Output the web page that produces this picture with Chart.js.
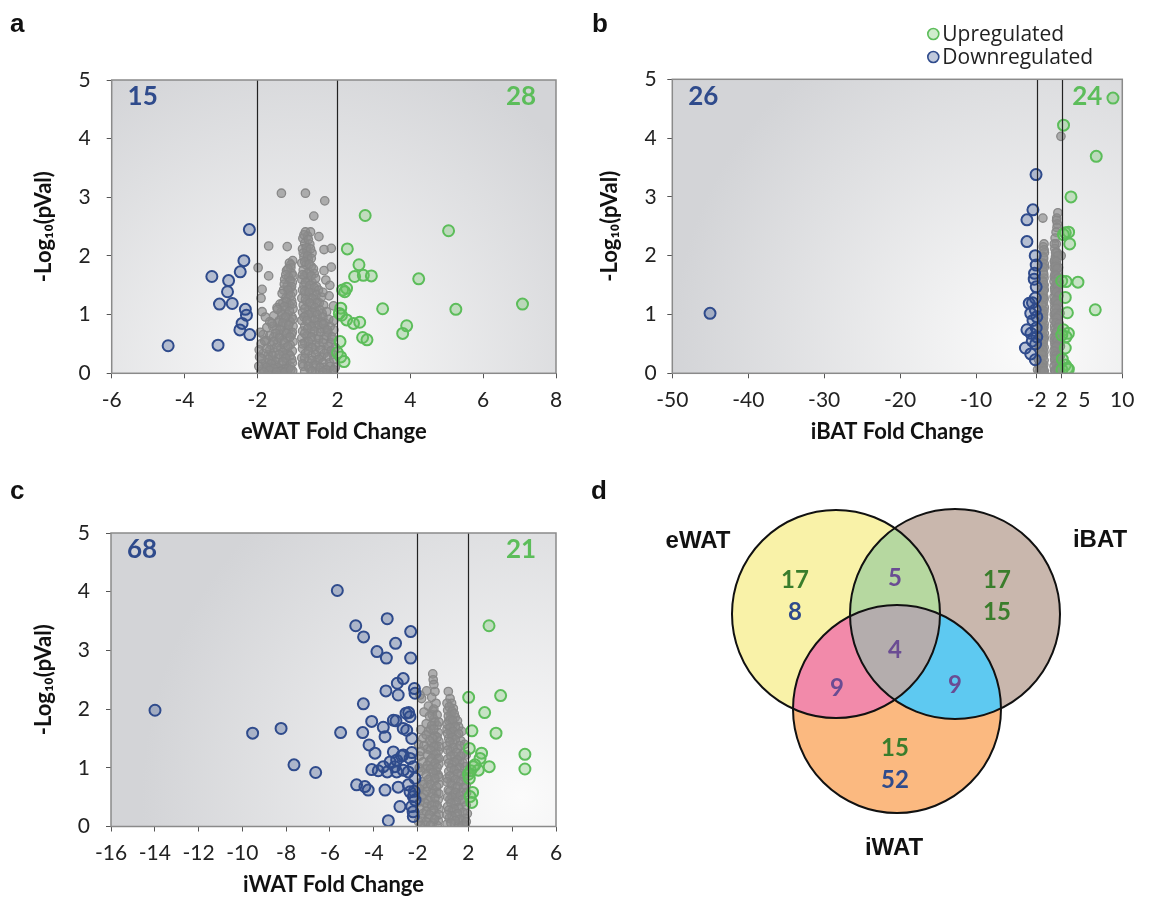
<!DOCTYPE html>
<html>
<head>
<meta charset="utf-8">
<script src="https://cdn.jsdelivr.net/npm/chart.js@4.4.1/dist/chart.umd.min.js"></script>
<style>
  body { margin: 0; background: #fff; width: 1151px; height: 898px; position: relative; overflow: hidden; }
  canvas { position: absolute; }
  .tag { position: absolute; font: bold 26px "Liberation Sans", Arial, sans-serif; line-height: 26px; color: #111; }
</style>
</head>
<body>
<canvas id="chartA" width="575" height="449" style="left:0;top:0"></canvas>
<canvas id="chartB" width="576" height="449" style="left:575px;top:0"></canvas>
<canvas id="chartC" width="575" height="449" style="left:0;top:449px"></canvas>
<canvas id="chartD" width="551" height="449" style="left:600px;top:449px"></canvas>
<div class="tag" style="left:10px;top:10px">a</div>
<div class="tag" style="left:592px;top:10px">b</div>
<div class="tag" style="left:10px;top:477px">c</div>
<div class="tag" style="left:591px;top:477px">d</div>
<script>
// tick labels
const yTicks = [0, 1, 2, 3, 4, 5]
const xTicksA = [-6, -4, -2, 2, 4, 6, 8]
const xTicksB = [-50, -40, -30, -20, -10, -2, 2, 5, 10]
const xTicksC = [-16, -14, -12, -10, -8, -6, -4, -2, 2, 4, 6]

// number of genes up / down per tissue (a, b, c)
const countDown = [15, 26, 68]
const countUp = [28, 24, 21]

// points: fold change, -log10(p)   (flat pairs)
const downA = [-2.22,2.45, -2.37,1.92, -2.47,1.73, -3.25,1.65, -2.79,1.58, -2.82,1.39, -3.04,1.18, -2.69,1.19,
  -2.33,1.09, -2.30,0.99, -2.42,0.85, -2.48,0.74, -2.21,0.66, -4.45,0.47, -3.08,0.48]
const upA = [2.76,2.69, 5.05,2.43, 2.27,2.12, 2.59,1.85, 2.47,1.65, 2.71,1.67, 2.93,1.66, 4.23,1.61, 2.14,1.42,
  2.25,1.45, 2.20,1.39, 7.08,1.18, 3.24,1.10, 5.25,1.09, 2.09,1.11, 2.11,0.99, 2.25,0.91, 2.44,0.85, 2.61,0.87,
  3.90,0.81, 3.79,0.68, 2.69,0.61, 2.81,0.57, 2.07,0.54, 2.00,0.35, 2.09,0.28, 2.18,0.20, 2.05,1.02]
const grayA = [
  -1.03,1.92, -1.12,1.88, -1.08,1.80, -1.20,1.75, -1.05,1.70, -1.14,1.64, -1.25,1.60, -1.04,1.55, -1.18,1.50,
  -1.10,1.45, -1.28,1.42, -1.03,1.38, -1.15,1.34, -1.22,1.28, -1.06,1.24, -1.30,1.20, -1.12,1.16, -1.02,1.10,
  -1.24,1.08, -1.35,1.04, -1.16,1.00, -1.05,0.96, -1.28,0.94, -1.40,0.90, -1.10,0.88, -1.20,0.84, -1.02,0.80,
  -1.33,0.80, -1.48,0.76, -1.14,0.74, -1.25,0.70, -1.06,0.66, -1.38,0.66, -1.55,0.62, -1.18,0.60, -1.30,0.56,
  -1.02,0.54, -1.45,0.52, -1.10,0.48, -1.62,0.48, -1.22,0.44, -1.36,0.42, -1.04,0.38, -1.52,0.36, -1.15,0.34,
  -1.70,0.32, -1.28,0.30, -1.42,0.26, -1.06,0.24, -1.60,0.22, -1.20,0.20, -1.78,0.18, -1.34,0.16, -1.50,0.14,
  -1.10,0.12, -1.66,0.10, -1.26,0.08, -1.85,0.07, -1.40,0.05, -1.03,0.04, -1.56,0.03, -1.18,0.02, -1.72,0.02,
  -1.90,0.03, -1.32,0.01,
  -1.08,1.85, -1.16,1.78, -1.02,1.66, -1.22,1.68, -1.10,1.58, -1.26,1.52, -1.06,1.48, -1.16,1.42, -1.32,1.36,
  -1.08,1.32, -1.20,1.22, -1.38,1.18, -1.04,1.18, -1.26,1.14, -1.46,1.12, -1.12,1.06, -1.32,1.00, -1.55,0.98,
  -1.22,0.96, -1.02,0.92, -1.44,0.86, -1.66,0.88, -1.30,0.86, -1.14,0.82, -1.58,0.80, -1.74,0.78, -1.38,0.74,
  -1.04,0.70, -1.20,0.68, -1.50,0.68, -1.84,0.66, -1.66,0.64, -1.10,0.62, -1.40,0.60, -1.26,0.52, -1.56,0.54,
  -1.76,0.56, -1.90,0.50, -1.16,0.46, -1.48,0.44, -1.66,0.40, -1.30,0.36, -1.84,0.34, -1.10,0.30, -1.58,0.30,
  -1.40,0.32, -1.94,0.28, -1.22,0.26, -1.70,0.24, -1.50,0.20, -1.04,0.18, -1.30,0.20, -1.86,0.16, -1.62,0.16,
  -1.14,0.08, -1.44,0.10, -1.76,0.10, -1.96,0.12, -1.56,0.08, -1.34,0.04, -1.66,0.05, -1.82,0.02, -1.24,0.02,
  -1.48,0.02, -1.08,0.06,
  -1.69,2.17, -1.18,2.16, -1.34,3.07, -1.98,1.80, -1.69,1.66, -1.87,1.43, -1.90,1.28, -1.45,1.09, -1.87,1.05,
  -1.78,0.96, -1.92,0.70, -1.80,0.55, -1.95,0.40, -1.88,0.25, -1.60,0.85, -1.75,0.42,
  1.12,2.41, 1.26,2.41, 1.05,2.30, 1.18,2.34, 1.10,2.22, 1.24,2.20, 1.04,2.12, 1.16,2.08, 1.30,2.05, 1.08,1.98,
  1.20,1.94, 1.02,1.88, 1.14,1.85, 1.28,1.82, 1.06,1.76, 1.22,1.72, 1.36,1.70, 1.10,1.66, 1.02,1.60, 1.18,1.58,
  1.30,1.55, 1.08,1.50, 1.42,1.48, 1.20,1.45, 1.04,1.42, 1.32,1.38, 1.12,1.35, 1.24,1.30, 1.02,1.28, 1.40,1.26,
  1.16,1.22, 1.50,1.20, 1.06,1.16, 1.28,1.14, 1.20,1.08, 1.38,1.05, 1.04,1.04, 1.58,1.02, 1.12,0.98, 1.30,0.95,
  1.46,0.92, 1.02,0.90, 1.22,0.86, 1.66,0.86, 1.10,0.80, 1.36,0.80, 1.54,0.76, 1.04,0.72, 1.26,0.70, 1.74,0.70,
  1.16,0.64, 1.44,0.64, 1.02,0.60, 1.62,0.58, 1.30,0.56, 1.10,0.52, 1.82,0.52, 1.50,0.48, 1.20,0.46, 1.04,0.42,
  1.38,0.40, 1.70,0.38, 1.12,0.34, 1.88,0.32, 1.28,0.30, 1.56,0.28, 1.02,0.26, 1.44,0.22, 1.18,0.20, 1.78,0.18,
  1.34,0.14, 1.06,0.12, 1.62,0.10, 1.94,0.10, 1.24,0.07, 1.50,0.05, 1.10,0.03, 1.40,0.02, 1.72,0.02, 1.86,0.04,
  1.08,2.36, 1.20,2.28, 1.14,2.14, 1.26,2.12, 1.06,2.05, 1.18,2.00, 1.28,1.96, 1.10,1.90, 1.22,1.86, 1.34,1.78,
  1.16,1.70, 1.28,1.66, 1.04,1.68, 1.40,1.62, 1.12,1.55, 1.24,1.50, 1.36,1.46, 1.48,1.42, 1.10,1.40, 1.22,1.38,
  1.42,1.34, 1.56,1.30, 1.30,1.28, 1.12,1.26, 1.44,1.20, 1.24,1.20, 1.62,1.16, 1.38,1.12, 1.10,1.10, 1.52,1.08,
  1.30,1.04, 1.70,1.05, 1.20,1.00, 1.44,1.00, 1.60,0.96, 1.08,0.96, 1.76,0.92, 1.36,0.90, 1.56,0.86, 1.16,0.90,
  1.80,0.80, 1.46,0.82, 1.28,0.80, 1.64,0.76, 1.18,0.76, 1.36,0.72, 1.90,0.74, 1.54,0.70, 1.10,0.68, 1.70,0.64,
  1.28,0.62, 1.86,0.58, 1.48,0.58, 1.20,0.54, 1.60,0.52, 1.40,0.48, 1.76,0.46, 1.04,0.50, 1.94,0.44, 1.30,0.44,
  1.54,0.40, 1.20,0.38, 1.82,0.38, 1.64,0.34, 1.40,0.32, 1.10,0.26, 1.72,0.28, 1.48,0.24, 1.30,0.22, 1.90,0.24,
  1.60,0.18, 1.04,0.16, 1.40,0.14, 1.80,0.12, 1.20,0.12, 1.52,0.10, 1.70,0.06, 1.30,0.04, 1.90,0.06, 1.60,0.02,
  1.12,3.07, 1.65,2.94, 1.35,2.68, 1.49,2.33, 1.63,2.11, 1.83,2.13, 1.83,1.81, 1.63,1.75, 1.68,1.59, 1.79,1.50,
  1.60,1.38, 1.77,1.32, 1.89,1.15, 1.61,0.84, 1.72,0.74, 1.90,0.90, 1.85,0.62]

const downB = [-45.03,1.02, -2.1,3.38, -2.51,2.78, -3.3,2.61, -3.3,2.24, -2.21,2.0, -2.08,1.84, -2.34,1.6, -2.08,1.47,
  -3.0,1.19, -2.57,1.2, -2.2,1.28, -2.8,1.02, -2.2,1.08, -2.0,0.96, -3.3,0.74, -2.77,0.68, -2.08,0.77, -2.0,0.62,
  -3.5,0.43, -2.8,0.33, -2.2,0.23, -2.3,1.7, -2.5,0.9, -2.15,0.5, -2.6,0.55]
const upB = [8.77,4.68, 2.26,4.22, 6.57,3.69, 3.24,3.0, 2.49,2.39, 2.93,2.4, 2.24,2.36, 3.07,2.2, 2.02,1.57, 2.6,1.56,
  4.16,1.55, 2.49,1.29, 6.44,1.08, 2.77,1.03, 2.24,0.74, 2.9,0.68, 2.6,0.62, 2.03,0.65, 2.49,0.43, 2.1,0.24,
  2.49,0.14, 2.77,0.085, 2.05,0.06, 2.9,0.07]
const grayB = [
  -1.2,2.64, -1.05,2.2, -1.15,2.15, -1.0,2.05, -1.1,1.95, -1.25,1.88, -1.02,1.8, -1.15,1.72, -1.05,1.62, -1.3,1.58,
  -1.12,1.5, -1.02,1.42, -1.22,1.36, -1.08,1.3, -1.4,1.25, -1.15,1.2, -1.02,1.12, -1.3,1.08, -1.1,1.0, -1.5,0.96,
  -1.2,0.9, -1.04,0.84, -1.36,0.8, -1.14,0.74, -1.6,0.7, -1.26,0.66, -1.02,0.6, -1.44,0.56, -1.16,0.5, -1.7,0.46,
  -1.3,0.42, -1.06,0.36, -1.52,0.32, -1.2,0.28, -1.8,0.24, -1.38,0.2, -1.08,0.15, -1.6,0.12, -1.26,0.08, -1.9,0.06,
  -1.45,0.04, -1.12,0.02, -1.7,0.02,
  -1.04,2.1, -1.12,1.98, -1.02,1.86, -1.2,1.8, -1.08,1.68, -1.16,1.56, -1.04,1.5, -1.26,1.46, -1.12,1.4, -1.04,1.26,
  -1.2,1.28, -1.34,1.16, -1.06,1.06, -1.22,1.02, -1.4,1.0, -1.12,0.94, -1.3,0.88, -1.06,0.78, -1.24,0.76, -1.5,0.8,
  -1.02,0.68, -1.18,0.62, -1.36,0.6, -1.56,0.62, -1.1,0.56, -1.28,0.5, -1.46,0.46, -1.04,0.44, -1.2,0.4, -1.62,0.38,
  -1.12,0.3, -1.34,0.32, -1.5,0.24, -1.04,0.22, -1.26,0.16, -1.44,0.12, -1.7,0.14, -1.16,0.08, -1.34,0.02,
  -1.56,0.04, -1.02,0.04,
  1.92,4.03, 1.52,2.73, 1.37,2.64, 1.45,2.54, 1.3,2.2, 1.12,2.12, 1.4,2.05, 1.2,1.98, 1.05,1.9, 1.32,1.85, 1.6,1.8,
  1.15,1.76, 1.45,1.7, 1.05,1.64, 1.25,1.6, 1.7,1.55, 1.38,1.5, 1.1,1.45, 1.55,1.4, 1.2,1.35, 1.02,1.3, 1.45,1.25,
  1.3,1.2, 1.12,1.15, 1.65,1.1, 1.4,1.05, 1.05,1.0, 1.22,0.95, 1.55,0.9, 1.35,0.85, 1.1,0.8, 1.75,0.76, 1.45,0.72,
  1.2,0.68, 1.03,0.62, 1.6,0.58, 1.32,0.54, 1.12,0.5, 1.85,0.46, 1.5,0.42, 1.25,0.38, 1.05,0.32, 1.7,0.28, 1.4,0.24,
  1.15,0.2, 1.9,0.16, 1.55,0.12, 1.3,0.08, 1.08,0.05, 1.75,0.04, 1.45,0.02, 1.95,2.0,
  1.35,2.6, 1.4,2.48, 1.28,2.4, 1.15,2.3, 1.05,2.2, 1.22,2.05, 1.5,2.0, 1.1,1.92, 1.3,1.9, 1.02,1.8, 1.2,1.82,
  1.4,1.78, 1.12,1.68, 1.3,1.66, 1.55,1.62, 1.02,1.56, 1.22,1.5, 1.45,1.48, 1.12,1.4, 1.32,1.38, 1.65,1.32,
  1.05,1.22, 1.22,1.24, 1.5,1.18, 1.1,1.08, 1.3,1.1, 1.8,1.02, 1.2,1.02, 1.6,0.98, 1.02,0.9, 1.4,0.94, 1.25,0.86,
  1.7,0.84, 1.12,0.74, 1.55,0.78, 1.35,0.7, 1.9,0.64, 1.05,0.56, 1.25,0.6, 1.45,0.56, 1.7,0.5, 1.15,0.44, 1.35,0.46,
  1.6,0.36, 1.02,0.38, 1.25,0.3, 1.85,0.3, 1.5,0.26, 1.1,0.24, 1.3,0.16, 1.7,0.14, 1.02,0.12, 1.45,0.08, 1.2,0.04,
  1.6,0.06, 1.9,0.05]

const downC = [-13.99,1.98, -9.53,1.59, -8.23,1.67, -7.64,1.05, -6.65,0.92, -5.66,4.02, -5.51,1.6, -4.82,3.42,
  -4.46,3.23, -3.38,3.54, -3.0,3.12, -3.85,2.98, -3.42,2.87, -2.31,3.32, -2.31,2.87, -2.65,2.52, -2.92,2.44,
  -3.44,2.31, -2.88,2.24, -2.14,2.35, -2.11,2.27, -4.47,2.09, -2.4,1.94, -2.34,1.87, -4.09,1.79, -2.98,1.8,
  -3.56,1.69, -3.48,1.53, -2.65,1.67, -2.49,1.64, -4.5,1.6, -2.26,1.5, -4.21,1.39, -3.94,1.25, -3.1,1.27,
  -2.65,1.22, -2.26,1.26, -3.25,1.1, -2.95,1.13, -3.03,1.02, -4.09,0.97, -3.79,0.95, -3.56,1.02, -3.38,0.93,
  -2.95,0.93, -2.65,0.96, -2.42,0.93, -2.19,1.02, -4.78,0.71, -4.4,0.68, -4.25,0.62, -3.48,0.62, -2.88,0.67,
  -2.42,0.71, -2.34,0.59, -2.19,0.51, -2.11,0.45, -2.8,0.34, -3.33,0.1, -2.26,0.34, -2.19,0.17, -2.11,0.82,
  -3.1,1.81, -2.52,1.93, -2.34,1.16, -2.72,1.2, -2.15,0.6, -2.2,0.25]
const upC = [2.94,3.42, 2.01,2.2, 3.47,2.23, 2.74,1.94, 2.16,1.63, 3.26,1.59, 2.04,1.33, 2.6,1.25, 2.53,1.16,
  4.58,1.23, 4.58,0.98, 2.95,1.02, 2.22,1.02, 2.45,0.96, 2.0,0.89, 2.04,0.82, 2.19,0.58, 2.07,0.51, 2.15,0.41,
  2.1,0.95, 2.3,1.05]
const grayC = [
  -1.3,2.6, -1.28,2.5, -1.25,2.42, -1.58,2.31, -1.81,2.18, -1.88,2.24, -1.3,1.97, -1.32,1.9, -1.25,1.83, -1.6,1.75,
  -1.1,1.72, -1.4,1.66, -1.05,1.6, -1.2,1.55, -1.75,1.5, -1.02,1.45, -1.35,1.42, -1.15,1.36, -1.55,1.32, -1.05,1.28,
  -1.25,1.22, -1.9,1.2, -1.1,1.16, -1.45,1.12, -1.02,1.06, -1.3,1.02, -1.65,0.98, -1.15,0.94, -1.05,0.88, -1.4,0.84,
  -1.22,0.78, -1.8,0.76, -1.02,0.72, -1.55,0.68, -1.3,0.64, -1.12,0.58, -1.7,0.54, -1.4,0.5, -1.05,0.46, -1.9,0.42,
  -1.22,0.38, -1.55,0.34, -1.02,0.3, -1.35,0.26, -1.75,0.22, -1.15,0.18, -1.5,0.14, -1.05,0.1, -1.95,0.08, -1.3,0.06,
  -1.65,0.03, -1.1,0.02, -1.95,1.4, -1.92,1.0, -1.98,0.6,
  -1.2,2.3, -1.35,2.2, -1.15,2.1, -1.5,2.05, -1.25,2.0, -1.7,1.95, -1.1,1.9, -1.45,1.88, -1.2,1.78, -1.35,1.72,
  -1.02,1.78, -1.85,1.65, -1.5,1.62, -1.25,1.66, -1.1,1.52, -1.6,1.56, -1.3,1.5, -1.45,1.46, -1.02,1.36, -1.25,1.36,
  -1.7,1.38, -1.4,1.3, -1.15,1.24, -1.85,1.28, -1.55,1.22, -1.35,1.16, -1.02,1.16, -1.75,1.1, -1.2,1.08, -1.55,1.04,
  -1.4,0.98, -1.1,1.0, -1.85,0.94, -1.28,0.92, -1.6,0.88, -1.02,0.84, -1.5,0.8, -1.2,0.82, -1.7,0.72, -1.4,0.72,
  -1.12,0.68, -1.9,0.64, -1.58,0.6, -1.3,0.56, -1.02,0.56, -1.8,0.5, -1.5,0.44, -1.2,0.48, -1.65,0.4, -1.35,0.36,
  -1.1,0.36, -1.88,0.3, -1.6,0.26, -1.25,0.28, -1.45,0.2, -1.02,0.2, -1.8,0.14, -1.22,0.12, -1.6,0.08, -1.4,0.02,
  -1.85,0.02,
  1.08,2.3, 1.16,2.18, 1.23,2.1, 1.31,2.01, 1.05,1.98, 1.2,1.9, 1.4,1.86, 1.1,1.8, 1.3,1.74, 1.55,1.7, 1.02,1.66,
  1.2,1.6, 1.45,1.56, 1.1,1.5, 1.65,1.46, 1.3,1.42, 1.02,1.38, 1.5,1.32, 1.18,1.28, 1.75,1.24, 1.35,1.2, 1.05,1.15,
  1.6,1.1, 1.25,1.06, 1.85,1.02, 1.45,0.98, 1.1,0.94, 1.7,0.9, 1.3,0.86, 1.02,0.82, 1.55,0.78, 1.2,0.74, 1.9,0.7,
  1.4,0.66, 1.08,0.62, 1.65,0.58, 1.3,0.54, 1.5,0.5, 1.15,0.46, 1.8,0.42, 1.35,0.38, 1.05,0.34, 1.6,0.3, 1.25,0.26,
  1.95,0.22, 1.45,0.18, 1.12,0.14, 1.7,0.1, 1.35,0.06, 1.02,0.04, 1.55,0.02, 1.85,0.03,
  1.02,2.1, 1.12,2.04, 1.25,1.96, 1.08,1.88, 1.35,1.92, 1.18,1.82, 1.5,1.8, 1.28,1.8, 1.02,1.74, 1.4,1.7, 1.15,1.68,
  1.7,1.62, 1.3,1.62, 1.05,1.58, 1.55,1.58, 1.25,1.52, 1.4,1.48, 1.82,1.4, 1.15,1.44, 1.6,1.38, 1.3,1.34, 1.05,1.3,
  1.45,1.26, 1.9,1.22, 1.2,1.2, 1.65,1.2, 1.5,1.14, 1.35,1.1, 1.1,1.08, 1.75,1.08, 1.2,1.0, 1.6,1.0, 1.35,0.96,
  1.92,0.9, 1.5,0.9, 1.15,0.86, 1.8,0.84, 1.4,0.8, 1.65,0.76, 1.02,0.76, 1.25,0.7, 1.5,0.68, 1.78,0.66, 1.15,0.6,
  1.92,0.58, 1.4,0.58, 1.6,0.52, 1.25,0.5, 1.05,0.5, 1.72,0.46, 1.45,0.42, 1.2,0.4, 1.9,0.36, 1.55,0.32, 1.35,0.3,
  1.1,0.28, 1.75,0.24, 1.5,0.22, 1.25,0.18, 1.02,0.2, 1.85,0.14, 1.6,0.12, 1.4,0.1, 1.2,0.06, 1.75,0.02, 1.9,0.08]

// venn: gene counts per region (top number / bottom number)
const vennSets = ['eWAT', 'iBAT', 'iWAT']
const vennRegions = ['eWAT', 'iBAT', 'iWAT', 'eWAT+iBAT', 'eWAT+iWAT', 'iBAT+iWAT', 'all']
const vennTop = [17, 17, 15, 5, 9, 9, 4]
const vennBottom = [8, 15, 52, null, null, null, null]

// ---- styles / layout ----
const GREEN = '#5cbd5a', GREEN_FILL = 'rgba(110,195,100,0.32)'
const BLUE = '#2f4b8c', BLUE_FILL = 'rgba(47,75,140,0.3)'
const FONT = 'Lato, "Open Sans", sans-serif'
Chart.defaults.font.family = FONT

function fold(fc, gap) { return fc < 0 ? fc + gap : fc - gap }

function toPts(arr, gap) {
  const out = []
  for (let i = 0; i < arr.length; i += 2) out.push({ x: fold(arr[i], gap), y: arr[i + 1] })
  return out
}

// fundo degradê, linhas de corte, moldura e contagens
const volcanoDeco = {
  id: 'volcanoDeco',
  beforeDraw(chart, args, o) {
    const { ctx, chartArea: a } = chart
    const cx = a.left + o.glow[0] * a.width, cy = a.top + o.glow[1] * a.height
    const g = ctx.createRadialGradient(cx, cy, 0, cx, cy, o.glow[2] * a.width)
    g.addColorStop(0, '#fbfbfb')
    g.addColorStop(1, '#d3d4d7')
    ctx.save()
    ctx.fillStyle = g
    ctx.fillRect(a.left, a.top, a.width, a.height)
    ctx.restore()
  },
  afterDatasetsDraw(chart, args, o) {
    const { ctx, chartArea: a, scales } = chart
    ctx.save()
    ctx.strokeStyle = '#222'
    ctx.lineWidth = 1.2
    for (const v of [-2, 2]) {
      const x = Math.round(scales.x.getPixelForValue(fold(v, o.gap))) + 0.5
      ctx.beginPath(); ctx.moveTo(x, a.top); ctx.lineTo(x, a.bottom); ctx.stroke()
    }
    ctx.strokeStyle = '#8a8a8a'
    ctx.lineWidth = 1.5
    ctx.strokeRect(a.left, a.top, a.width, a.height)
    ctx.font = 'bold 26px ' + FONT
    ctx.textAlign = 'center'
    ctx.textBaseline = 'middle'
    ctx.fillStyle = BLUE
    ctx.fillText(String(o.down), a.left + 31, a.top + 17)
    ctx.fillStyle = GREEN
    ctx.fillText(String(o.up), a.right - 35, a.top + 17)
    ctx.restore()
  }
}

const legendDeco = {
  id: 'legendDeco',
  afterDraw(chart, args, o) {
    if (!o.show) return
    const ctx = chart.ctx
    ctx.save()
    ctx.font = '21px "Open Sans", sans-serif'
    ctx.textBaseline = 'middle'
    chart.data.datasets.slice(0, 2).forEach((ds, i) => {
      const y = o.y + i * 23
      ctx.beginPath()
      ctx.arc(o.x, y, 5.5, 0, Math.PI * 2)
      ctx.fillStyle = '#fff'; ctx.fill()
      ctx.fillStyle = ds.backgroundColor; ctx.fill()
      ctx.lineWidth = 1.6; ctx.strokeStyle = ds.borderColor; ctx.stroke()
      ctx.fillStyle = '#222'
      ctx.fillText(ds.label, o.x + 9, y + 1)
    })
    ctx.restore()
  }
}

function volcano(id, d, L) {
  const g = L.gap
  const tickFont = { family: FONT, size: 21 }
  const titleFont = { family: FONT, size: 22, weight: 'bold' }
  return new Chart(document.getElementById(id), {
    type: 'scatter',
    data: {
      datasets: [
        { label: 'Upregulated', data: toPts(d.up, g), pointRadius: 5.5, borderWidth: 2,
          borderColor: GREEN, backgroundColor: GREEN_FILL, order: 1 },
        { label: 'Downregulated', data: toPts(d.down, g), pointRadius: 5.5, borderWidth: 2,
          borderColor: BLUE, backgroundColor: BLUE_FILL, order: 1 },
        { label: 'Other', data: toPts(d.gray, g), pointRadius: 4.2, borderWidth: 1.3,
          borderColor: '#888888', backgroundColor: 'rgba(140,140,140,0.65)', order: 2 }
      ]
    },
    options: {
      responsive: false,
      animation: false,
      events: [],
      layout: { padding: L.pad },
      scales: {
        x: {
          type: 'linear',
          min: fold(d.xTicks[0], g),
          max: fold(d.xTicks[d.xTicks.length - 1], g),
          afterBuildTicks: s => { s.ticks = d.xTicks.map(v => ({ value: fold(v, g) })) },
          afterFit: s => { s.height = L.xAxisH },
          border: { display: false },
          grid: {
            drawOnChartArea: false, tickLength: 5, lineWidth: 1,
            tickColor: c => (d.noMark || []).includes(d.xTicks[c.index]) ? 'rgba(0,0,0,0)' : '#555'
          },
          ticks: { autoSkip: false, maxRotation: 0, minRotation: 0, padding: 9, color: '#222', font: tickFont,
            callback: (v, i) => String(d.xTicks[i]) },
          title: { display: true, text: d.xTitle, color: '#111', font: titleFont,
            padding: { top: 0, bottom: L.xTitlePad } }
        },
        y: {
          type: 'linear', min: 0, max: 5,
          afterBuildTicks: s => { s.ticks = yTicks.map(v => ({ value: v })) },
          afterFit: s => { s.width = L.yAxisW },
          border: { display: false },
          grid: { drawOnChartArea: false, tickLength: 5, tickColor: '#555' },
          ticks: { padding: L.yTickPad, color: '#222', font: tickFont },
          title: { display: true, text: '-Log\u2081\u2080(pVal)', color: '#111', font: titleFont,
            padding: { top: L.yTitlePad, bottom: 0 } }
        }
      },
      plugins: {
        legend: { display: false },
        tooltip: { enabled: false },
        volcanoDeco: { gap: g, glow: L.glow, down: d.countDown, up: d.countUp },
        legendDeco: L.legend || { show: false }
      }
    },
    plugins: [volcanoDeco, legendDeco]
  })
}

volcano('chartA',
  { up: upA, down: downA, gray: grayA, xTicks: xTicksA, xTitle: 'eWAT Fold Change', countDown: countDown[0], countUp: countUp[0] },
  { gap: 0.9, pad: { top: 80, right: 19, left: 0, bottom: 0 }, xAxisH: 75.7, yAxisW: 111.7,
    xTitlePad: 4, yTitlePad: 31, yTickPad: 16, glow: [0.42, 1.0, 0.78] })

volcano('chartB',
  { up: upB, down: downB, gray: grayB, xTicks: xTicksB, noMark: [5], xTitle: 'iBAT Fold Change', countDown: countDown[1], countUp: countUp[1] },
  { gap: 0.37, pad: { top: 79.3, right: 28.7, left: 0, bottom: 0 }, xAxisH: 75.7, yAxisW: 97.3,
    xTitlePad: 4, yTitlePad: 22, yTickPad: 10.6, glow: [0.8, 0.92, 0.8],
    legend: { show: true, x: 358.3, y: 34 } })

volcano('chartC',
  { up: upC, down: downC, gray: grayC, xTicks: xTicksC, xTitle: 'iWAT Fold Change', countDown: countDown[2], countUp: countUp[2] },
  { gap: 0.835, pad: { top: 84, right: 19, left: 0, bottom: 0 }, xAxisH: 71.5, yAxisW: 111,
    xTitlePad: 0, yTitlePad: 31, yTickPad: 16, glow: [0.92, 0.9, 0.85] })

// ---- venn (d) ----
// circle centres / radii and label anchors in the canvas' own units
const vennLayout = {
  circles: [[236, 165, 104], [355, 165, 105], [297, 260, 104]],
  fills: ['#f9f2a8', '#c9b7ad', '#fbb980'],
  pairFills: { '0-1': '#b6d8a0', '0-2': '#f28aaa', '1-2': '#5ec9f1' },
  allFill: '#b4adad',
  names: [[98, 92], [500, 91], [294, 399]],
  regionAt: [[195, 131], [397, 131], [295, 299], [295, 129], [237, 239], [355, 236], [295, 201]],
  topColor: ['#3a7d2c', '#3a7d2c', '#3a7d2c', '#6a4c93', '#6a4c93', '#6a4c93', '#6a4c93'],
  bottomColor: ['#2f4b8c', '#3a7d2c', '#2f4b8c']
}

const vennDraw = {
  id: 'vennDraw',
  afterDraw(chart) {
    const { ctx, scales: { x, y } } = chart
    const L = vennLayout
    const c = L.circles.map(([cx, cy, r]) => ({
      x: x.getPixelForValue(cx), y: y.getPixelForValue(cy),
      r: x.getPixelForValue(cx + r) - x.getPixelForValue(cx)
    }))
    const path = k => { ctx.beginPath(); ctx.arc(c[k].x, c[k].y, c[k].r, 0, Math.PI * 2) }
    ctx.save()
    c.forEach((_, k) => { path(k); ctx.fillStyle = L.fills[k]; ctx.fill() })
    for (const key in L.pairFills) {
      const [i, j] = key.split('-').map(Number)
      ctx.save(); path(i); ctx.clip(); path(j); ctx.fillStyle = L.pairFills[key]; ctx.fill(); ctx.restore()
    }
    ctx.save(); path(0); ctx.clip(); path(1); ctx.clip(); path(2); ctx.fillStyle = L.allFill; ctx.fill(); ctx.restore()
    ctx.lineWidth = 2; ctx.strokeStyle = '#111'
    c.forEach((_, k) => { path(k); ctx.stroke() })

    ctx.textAlign = 'center'; ctx.textBaseline = 'middle'
    ctx.font = 'bold 24px "Liberation Sans", Arial, sans-serif'; ctx.fillStyle = '#111'
    vennSets.forEach((s, k) => ctx.fillText(s, x.getPixelForValue(L.names[k][0]), y.getPixelForValue(L.names[k][1])))
    ctx.font = 'bold 24px ' + FONT
    vennRegions.forEach((r, k) => {
      const px = x.getPixelForValue(L.regionAt[k][0]), py = y.getPixelForValue(L.regionAt[k][1])
      ctx.fillStyle = L.topColor[k]; ctx.fillText(String(vennTop[k]), px, py)
      if (vennBottom[k] != null) {
        ctx.fillStyle = L.bottomColor[k]; ctx.fillText(String(vennBottom[k]), px, py + 32)
      }
    })
    ctx.restore()
  }
}

new Chart(document.getElementById('chartD'), {
  type: 'scatter',
  data: { datasets: [{ label: 'sets', data: vennLayout.circles.map(([cx, cy]) => ({ x: cx, y: cy })), pointRadius: 0 }] },
  options: {
    responsive: false,
    animation: false,
    events: [],
    layout: { padding: 0 },
    scales: {
      x: { display: false, min: 0, max: 551 },
      y: { display: false, min: 0, max: 449, reverse: true }
    },
    plugins: { legend: { display: false }, tooltip: { enabled: false } }
  },
  plugins: [vennDraw]
})
</script>
</body>
</html>
